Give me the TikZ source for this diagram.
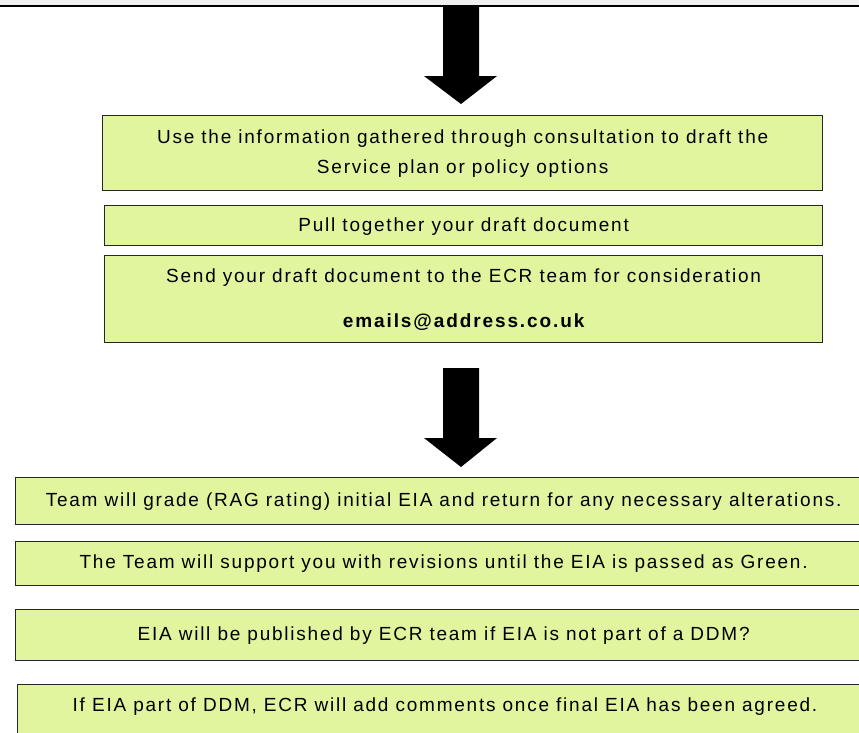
\documentclass[tikz,border=0pt]{standalone}
\usepackage{fontspec}
\setmainfont{Liberation Sans}
\newfontfamily\boxfont[LetterSpace=9.3]{Liberation Sans}
\newfontfamily\boldfont[LetterSpace=10]{Liberation Sans}
\definecolor{boxfill}{RGB}{224,245,158}
\definecolor{topgray}{RGB}{240,240,240}
\tikzset{
  stepbox/.style={draw=black!85, line width=1.3pt, fill=boxfill, inner sep=0pt, anchor=north west,
    font=\boxfont\fontsize{19}{30}\selectfont, align=center},
  bigarrow/.style={fill=black, draw=none}
}
\begin{document}
\begin{tikzpicture}[x=1pt,y=-1pt]
\useasboundingbox (0,0) rectangle (859,732);
\clip (0,0) rectangle (859,732);
\fill[white] (0,0) rectangle (859,732);
\fill[topgray] (0,0) rectangle (859,4.5);
\coordinate (tl) at (0,5.7);
\coordinate (tr) at (859,5.7);
\draw[line width=2pt] (tl) -- (tr);

% boxes
\node[stepbox, minimum width=720, minimum height=75] (b1) at (102,115)
  {Use the information gathered through consultation to draft the\\Service plan or policy options};
\node[stepbox, minimum width=718, minimum height=40] (b2) at (104,205) {};
\node (b2t) at ([yshift=-22]b2.north) {\boxfont\fontsize{19}{22}\selectfont Pull together your draft document};
\node[stepbox, minimum width=718, minimum height=87] (b3) at (104,255) {};
\node (b3t) at ([yshift=-23]b3.north) {\boxfont\fontsize{19}{22}\selectfont Send your draft document to the ECR team for consideration};
\node (b3e) at ([yshift=-67]b3.north) {\boldfont\bfseries\fontsize{19}{22}\selectfont emails@address.co.uk};

\node[stepbox, minimum width=856, minimum height=47] (b4) at (15,477)
  {Team will grade (RAG rating) initial EIA and return for any necessary alterations.};
\node[stepbox, minimum width=856, minimum height=44] (b5) at (15,541)
  {The Team will support you with revisions until the EIA is passed as Green.};
\node[stepbox, minimum width=856, minimum height=51] (b6) at (15,609)
  {EIA will be published by ECR team if EIA is not part of a DDM?};
\node[stepbox, minimum width=856, minimum height=60, anchor=north west] (b7) at (17,684) {};
\node (b7t) at (445,707) {\boxfont\fontsize{19}{22}\selectfont If EIA part of DDM, ECR will add comments once final EIA has been agreed.};

% arrows
\fill[bigarrow] (443,6) -- (479,6) -- (479,76) -- (497,76) -- (461,104) -- (424,76) -- (443,76) -- cycle;
\fill[bigarrow] (443,368) -- (479,368) -- (479,438) -- (497,438) -- (461,467) -- (424,438) -- (443,438) -- cycle;
\end{tikzpicture}
\end{document}
